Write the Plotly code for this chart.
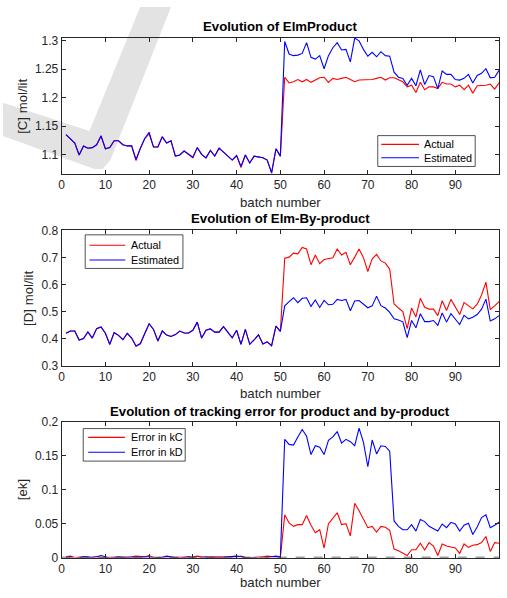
import plotly.graph_objects as go

W, H = 507, 598

batch = list(range(1, 101))

# Panel 1: [C] mol/lit
c_actual = [1.135, 1.128, 1.120, 1.099, 1.115, 1.111, 1.112, 1.117, 1.132, 1.110,
            1.112, 1.124, 1.124, 1.117, 1.115, 1.115, 1.089, 1.111, 1.128, 1.136,
            1.113, 1.113, 1.131, 1.120, 1.124, 1.097, 1.099, 1.106, 1.100, 1.094,
            1.112, 1.100, 1.094, 1.107, 1.097, 1.111, 1.104, 1.097, 1.090, 1.098,
            1.077, 1.099, 1.085, 1.097, 1.096, 1.094, 1.090, 1.068, 1.110, 1.097,
            1.236, 1.226, 1.228, 1.232, 1.228, 1.232, 1.227, 1.231, 1.235, 1.236,
            1.227, 1.234, 1.232, 1.234, 1.236, 1.232, 1.228, 1.231, 1.231, 1.231,
            1.232, 1.234, 1.236, 1.231, 1.235, 1.235, 1.231, 1.228, 1.219, 1.222,
            1.209, 1.227, 1.214, 1.219, 1.219, 1.216, 1.227, 1.224, 1.224, 1.219,
            1.222, 1.214, 1.222, 1.208, 1.221, 1.221, 1.222, 1.224, 1.215, 1.226]
c_estimated = [1.135, 1.128, 1.120, 1.099, 1.115, 1.111, 1.112, 1.117, 1.133, 1.110,
               1.112, 1.124, 1.124, 1.117, 1.115, 1.115, 1.091, 1.111, 1.128, 1.139,
               1.113, 1.113, 1.131, 1.120, 1.124, 1.097, 1.099, 1.106, 1.100, 1.095,
               1.112, 1.100, 1.094, 1.107, 1.097, 1.111, 1.104, 1.097, 1.090, 1.098,
               1.079, 1.099, 1.085, 1.097, 1.096, 1.094, 1.090, 1.067, 1.110, 1.097,
               1.299, 1.277, 1.274, 1.275, 1.278, 1.297, 1.271, 1.268, 1.274, 1.251,
               1.274, 1.288, 1.297, 1.284, 1.285, 1.263, 1.305, 1.300, 1.285, 1.273,
               1.280, 1.272, 1.281, 1.274, 1.273, 1.245, 1.236, 1.234, 1.222, 1.234,
               1.221, 1.249, 1.223, 1.239, 1.237, 1.216, 1.247, 1.241, 1.241, 1.232,
               1.231, 1.234, 1.241, 1.226, 1.239, 1.243, 1.251, 1.235, 1.236, 1.248]

# Panel 2: [D] mol/lit
d_actual = [0.420, 0.428, 0.428, 0.395, 0.400, 0.425, 0.402, 0.437, 0.443, 0.420,
            0.378, 0.422, 0.412, 0.396, 0.419, 0.402, 0.372, 0.381, 0.419, 0.455,
            0.434, 0.391, 0.428, 0.413, 0.408, 0.415, 0.428, 0.421, 0.420, 0.431,
            0.461, 0.402, 0.431, 0.436, 0.424, 0.424, 0.444, 0.422, 0.403, 0.431,
            0.379, 0.434, 0.379, 0.395, 0.414, 0.380, 0.388, 0.374, 0.446, 0.427,
            0.697, 0.701, 0.716, 0.713, 0.737, 0.731, 0.673, 0.709, 0.677, 0.692,
            0.695, 0.699, 0.731, 0.709, 0.719, 0.673, 0.701, 0.731, 0.699, 0.648,
            0.695, 0.711, 0.687, 0.679, 0.657, 0.528, 0.513, 0.500, 0.437, 0.513,
            0.480, 0.549, 0.516, 0.509, 0.509, 0.485, 0.540, 0.504, 0.545, 0.519,
            0.489, 0.533, 0.521, 0.510, 0.527, 0.561, 0.609, 0.507, 0.521, 0.537]
d_estimated = [0.420, 0.428, 0.428, 0.395, 0.400, 0.425, 0.402, 0.437, 0.443, 0.420,
               0.379, 0.422, 0.412, 0.396, 0.419, 0.402, 0.373, 0.382, 0.419, 0.455,
               0.434, 0.391, 0.428, 0.413, 0.408, 0.415, 0.428, 0.421, 0.421, 0.431,
               0.461, 0.402, 0.431, 0.436, 0.424, 0.424, 0.444, 0.422, 0.403, 0.431,
               0.379, 0.434, 0.379, 0.395, 0.414, 0.380, 0.388, 0.374, 0.446, 0.427,
               0.521, 0.537, 0.551, 0.533, 0.549, 0.551, 0.519, 0.543, 0.515, 0.541,
               0.525, 0.527, 0.545, 0.541, 0.545, 0.503, 0.539, 0.541, 0.527, 0.514,
               0.521, 0.557, 0.522, 0.513, 0.497, 0.473, 0.469, 0.462, 0.404, 0.467,
               0.440, 0.492, 0.463, 0.463, 0.467, 0.449, 0.495, 0.461, 0.492, 0.471,
               0.452, 0.486, 0.473, 0.479, 0.489, 0.509, 0.546, 0.465, 0.473, 0.485]

# Panel 3: tracking error
err_kC = [0.001, 0.002, 0.000, 0.001, 0.001, 0.000, 0.001, 0.001, 0.000, 0.000,
          0.001, 0.000, 0.001, 0.000, 0.000, 0.001, 0.002, 0.001, 0.001, 0.003,
          0.000, 0.000, 0.001, 0.001, 0.000, 0.000, 0.001, 0.001, 0.000, 0.001,
          0.002, 0.001, 0.000, 0.001, 0.001, 0.000, 0.000, 0.001, 0.000, 0.001,
          0.002, 0.000, 0.000, 0.000, 0.001, 0.001, 0.002, 0.001, 0.001, 0.000,
          0.063, 0.051, 0.046, 0.0485, 0.0485, 0.062, 0.0476, 0.0365, 0.041, 0.014,
          0.050, 0.058, 0.066, 0.0485, 0.050, 0.032, 0.080, 0.069, 0.057, 0.044,
          0.046, 0.0375, 0.046, 0.0447, 0.040, 0.0125, 0.010, 0.0067, 0.003, 0.0115,
          0.0115, 0.021, 0.011, 0.022, 0.017, 0.003, 0.020, 0.017, 0.016, 0.014,
          0.006, 0.020, 0.015, 0.018, 0.019, 0.022, 0.031, 0.009, 0.022, 0.021]
err_kD = [0.000, 0.001, -0.002, 0.000, 0.001, 0.001, 0.000, 0.001, 0.003, 0.001,
          -0.001, 0.000, 0.001, 0.000, 0.000, 0.000, 0.001, 0.001, 0.000, 0.001,
          -0.002, 0.000, 0.000, 0.002, 0.001, 0.000, -0.001, 0.000, 0.001, 0.000,
          -0.001, 0.000, 0.001, 0.000, 0.000, -0.001, 0.000, 0.001, 0.002, 0.002,
          0.001, 0.000, -0.001, 0.000, -0.001, -0.002, 0.000, 0.001, 0.002, 0.001,
          0.1745, 0.167, 0.166, 0.178, 0.189, 0.179, 0.152, 0.165, 0.163, 0.152,
          0.173, 0.178, 0.186, 0.169, 0.1745, 0.171, 0.165, 0.191, 0.170, 0.134,
          0.1735, 0.153, 0.165, 0.164, 0.157, 0.054, 0.046, 0.041, 0.041, 0.0485,
          0.039, 0.056, 0.053, 0.046, 0.042, 0.039, 0.0495, 0.044, 0.052, 0.0495,
          0.039, 0.0476, 0.0505, 0.034, 0.045, 0.059, 0.063, 0.044, 0.0476, 0.052]

x_ticks = [0, 10, 20, 30, 40, 50, 60, 70, 80, 90, 100]
y1_ticks = [1.1, 1.15, 1.2, 1.25, 1.3]
y2_ticks = [0.3, 0.4, 0.5, 0.6, 0.7, 0.8]
y3_ticks = [0, 0.05, 0.1, 0.15, 0.2]
y3_ticktext = ["0", "0.05", "0.1", "0.15", "0.2"]

titles = ["Evolution of ElmProduct", "Evolution of Elm-By-product",
          "Evolution of tracking error for product and by-product"]
ylabels = ["[C] mol/lit", "[D] mol/lit", "[ek]"]
xlabel = "batch number"
legend_names = [["Actual", "Estimated"], ["Actual", "Estimated"],
                ["Error in kC", "Error in kD"]]

FONT = "Liberation Sans, Arial, sans-serif"
AX = "#262626"
RED = "#ff0000"
BLUE = "#0000ff"


def X(px):
    return px / W


def Y(py):
    return 1 - py / H


fig = go.Figure()

series = [(c_actual, c_estimated), (d_actual, d_estimated), (err_kC, err_kD)]
for i, (a, b) in enumerate(series):
    suf = "" if i == 0 else str(i + 1)
    fig.add_trace(go.Scatter(x=batch, y=a, mode="lines", line=dict(color=RED, width=1.1),
                             xaxis="x" + suf, yaxis="y" + suf, showlegend=False,
                             name=legend_names[i][0]))
    fig.add_trace(go.Scatter(x=batch, y=b, mode="lines", line=dict(color=BLUE, width=1.1),
                             xaxis="x" + suf, yaxis="y" + suf, showlegend=False,
                             name=legend_names[i][1]))

# panel boxes (top, bottom) in pixels
boxes = [(31.7, 171.0), (228.7, 367.3), (425.0, 563.7)]
xdom = [X(59), X(499)]
yranges = [[1.0655, 1.3052], [0.3, 0.8], [0, 0.2]]
ytickvals = [y1_ticks, y2_ticks, y3_ticks]
yticktexts = [[str(v) for v in y1_ticks], [str(v) for v in y2_ticks], y3_ticktext]

axis_common = dict(showline=True, linecolor=AX, linewidth=1, mirror="ticks",
                   ticks="inside", ticklen=4, tickwidth=1, tickcolor=AX,
                   showgrid=False, zeroline=False,
                   tickfont=dict(family=FONT, size=12, color=AX))

layout = dict(width=W, height=H, autosize=False, margin=dict(l=0, r=0, t=0, b=0),
              paper_bgcolor="white", plot_bgcolor="rgba(0,0,0,0)",
              showlegend=False, font=dict(family=FONT, color=AX))

for i in range(3):
    suf = "" if i == 0 else str(i + 1)
    top, bot = boxes[i]
    layout["xaxis" + suf] = dict(axis_common, domain=xdom, range=[0, 100],
                                 tickvals=x_ticks, anchor="y" + suf)
    layout["yaxis" + suf] = dict(axis_common, domain=[Y(bot), Y(top)], range=yranges[i],
                                 tickvals=ytickvals[i], ticktext=yticktexts[i],
                                 anchor="x" + suf)

fig.update_layout(**layout)

# zero reference line in bottom panel
fig.add_shape(type="line", xref="x3 domain", yref="y3", x0=0, x1=1, y0=0, y1=0,
              line=dict(color="#404040", width=1.5, dash="dash"))

annotations = []
title_y = [20, 216.7, 414]
xlabel_y = [200, 396, 589]
ylabel_x = [20, 25, 19.5]
for i in range(3):
    top, bot = boxes[i]
    annotations.append(dict(text="<b>%s</b>" % titles[i], xref="paper", yref="paper",
                            x=X(279), y=Y(title_y[i]), xanchor="center", yanchor="middle",
                            showarrow=False, font=dict(family=FONT, size=13.2, color="black")))
    annotations.append(dict(text=xlabel, xref="paper", yref="paper",
                            x=X(279), y=Y(xlabel_y[i]), xanchor="center", yanchor="middle",
                            showarrow=False, font=dict(family=FONT, size=13.2, color=AX)))
    annotations.append(dict(text=ylabels[i], xref="paper", yref="paper", textangle=-90,
                            x=X(ylabel_x[i]), y=Y((top + bot) / 2), xanchor="center",
                            yanchor="middle", showarrow=False,
                            font=dict(family=FONT, size=13.2, color=AX)))

# manual legends: (box x0, x1, y0, y1, line x0, x1, row1 y, row2 y, text x)
legends = [(377, 475, 131.7, 163.3, 380.5, 418.5, 140.7, 154.3, 421),
           (82.7, 181, 233.3, 267.7, 87, 123, 244, 259, 127),
           (80.7, 183.3, 431.7, 465, 85.7, 122.7, 440.7, 456, 126.7)]
shapes = []
for i, (bx0, bx1, by0, by1, lx0, lx1, r1, r2, tx) in enumerate(legends):
    shapes.append(dict(type="rect", xref="paper", yref="paper", x0=X(bx0), x1=X(bx1),
                       y0=Y(by1), y1=Y(by0), line=dict(color=AX, width=0.8),
                       fillcolor="white", layer="above"))
    for ry, col, name in [(r1, RED, legend_names[i][0]), (r2, BLUE, legend_names[i][1])]:
        shapes.append(dict(type="line", xref="paper", yref="paper", x0=X(lx0), x1=X(lx1),
                           y0=Y(ry), y1=Y(ry), line=dict(color=col, width=1.1), layer="above"))
        annotations.append(dict(text=name, xref="paper", yref="paper", x=X(tx), y=Y(ry),
                                xanchor="left", yanchor="middle", showarrow=False,
                                font=dict(family=FONT, size=10.8, color="black")))

# light grey watermark tick behind the first panel
pts = [(138, 0), (169, 0), (108, 157), (100, 166), (92, 166), (0, 132), (0, 98), (87, 127)]
path = "M " + " L ".join("%f,%f" % (X(px), Y(py)) for px, py in pts) + " Z"
shapes.append(dict(type="path", xref="paper", yref="paper", path=path,
                   fillcolor="#e3e3e3", line=dict(width=0), layer="below"))

fig.update_layout(annotations=annotations, shapes=list(fig.layout.shapes) + shapes)

fig.write_html("out.html", config={"displayModeBar": False, "responsive": False},
               post_script="document.documentElement.style.overflow='hidden';"
                           "document.body.style.margin='0px';"
                           "document.body.style.overflow='hidden';")
